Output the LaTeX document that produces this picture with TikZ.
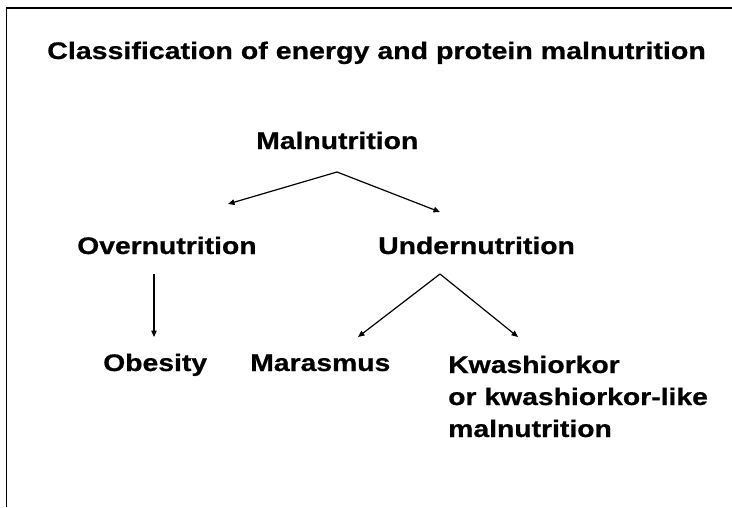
\documentclass[tikz,border=0pt]{standalone}
\usepackage{fontspec}
\setmainfont{Liberation Sans}[BoldFeatures={FakeBold=0.6}]
\usetikzlibrary{arrows.meta}

\tikzset{
  lbl/.style={anchor=base west, inner sep=0pt, xscale=1.18,
              font=\fontsize{24}{32}\selectfont\bfseries, align=left},
  arr/.style={line width=1.2pt, -{Triangle[length=6.5pt,width=5.5pt]}},
  frame/.style={line width=1.5pt}
}

\begin{document}
\begin{tikzpicture}[x=1pt,y=-1pt]
  \useasboundingbox (0,0) rectangle (732,507);

  % slide frame: top and left edges only
  \draw[frame] (732,8) -- (6.5,8) -- (6.5,507);

  % heading
  \node[lbl, xscale=1.19/1.18] (title) at (47,59) {Classification of energy and protein malnutrition};

  % tree labels
  \node[lbl] (mal)   at (256,149) {Malnutrition};
  \node[lbl] (over)  at (77,254)  {Overnutrition};
  \node[lbl] (under) at (378,254) {Undernutrition};
  \node[lbl] (obes)  at (103,371) {Obesity};
  \node[lbl] (maras) at (250,371) {Marasmus};
  % multi-line label: its base is the baseline of the last line
  \node[lbl] (kwash) at (448,437) {Kwashiorkor\\or kwashiorkor-like\\malnutrition};

  % connector ends
  \coordinate (malA)   at (337,172);
  \coordinate (malL)   at (228,204);
  \coordinate (malR)   at (440,212);
  \coordinate (overA)  at (154,274);
  \coordinate (overB)  at (154,337);
  \coordinate (underA) at (440,274);
  \coordinate (underL) at (358,337);
  \coordinate (underR) at (518,337);

  \draw[arr] (malA) -- (malL);
  \draw[arr] (malA) -- (malR);
  \draw[arr] (overA) -- (overB);
  \draw[arr] (underA) -- (underL);
  \draw[arr] (underA) -- (underR);
\end{tikzpicture}
\end{document}
